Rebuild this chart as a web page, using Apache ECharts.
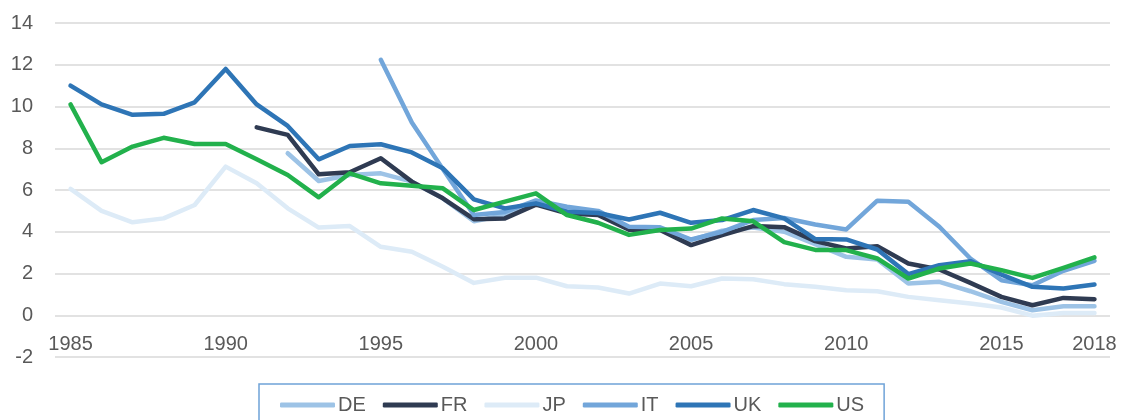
<!DOCTYPE html>
<html>
<head>
<meta charset="utf-8">
<script src="https://cdn.jsdelivr.net/npm/echarts@6/dist/echarts.min.js"></script>
<style>
  html, body { margin: 0; padding: 0; background: #fff; }
  #chart { width: 1123px; height: 420px; }
</style>
</head>
<body>
<div id="chart"></div>
<script>
  var years = [];
  for (var y = 1985; y <= 2018; y++) years.push(String(y));

  var shownYears = ['1985', '1990', '1995', '2000', '2005', '2010', '2015', '2018'];

  var de = [null, null, null, null, null, null, null,
    7.76, 6.43, 6.72, 6.8, 6.4, 5.6, 4.5, 4.8, 5.45,
    5.15, 4.9, 4.16, 4.16, 3.6, 4.05, 4.2, 4.0, 3.4, 2.8,
    2.67, 1.52, 1.6, 1.15, 0.64, 0.24, 0.43, 0.43];
  var fr = [null, null, null, null, null, null,
    9.0, 8.64, 6.75, 6.85, 7.52, 6.4, 5.6, 4.6, 4.64, 5.3,
    4.88, 4.8, 4.1, 4.08, 3.36, 3.84, 4.27, 4.22, 3.55, 3.2,
    3.31, 2.48, 2.19, 1.55, 0.88, 0.48, 0.83, 0.77];
  var jp = [6.05, 5.0, 4.45, 4.64, 5.28, 7.12,
    6.32, 5.12, 4.2, 4.27, 3.28, 3.04, 2.32, 1.55, 1.8, 1.8,
    1.39, 1.33, 1.04, 1.52, 1.39, 1.76, 1.72, 1.49, 1.36, 1.2,
    1.15, 0.88, 0.72, 0.56, 0.37, -0.02, 0.11, 0.11];
  var it = [null, null, null, null, null, null, null, null, null, null,
    12.24, 9.23, 7.0, 4.8, 4.95, 5.5,
    5.2, 5.0, 4.24, 4.21, 3.63, 4.0, 4.56, 4.66, 4.35, 4.11,
    5.49, 5.44, 4.24, 2.72, 1.68, 1.44, 2.13, 2.61];
  var uk = [11.0, 10.1, 9.6, 9.65, 10.2, 11.8,
    10.1, 9.07, 7.47, 8.11, 8.19, 7.8, 7.04, 5.55, 5.12, 5.36,
    4.96, 4.9, 4.59, 4.91, 4.43, 4.56, 5.04, 4.64, 3.65, 3.63,
    3.15, 1.97, 2.4, 2.59, 1.95, 1.36, 1.28, 1.47];
  var us = [10.1, 7.33, 8.08, 8.5, 8.2, 8.2,
    7.47, 6.72, 5.65, 6.8, 6.32, 6.2, 6.08, 5.04, 5.44, 5.84,
    4.8, 4.43, 3.85, 4.08, 4.15, 4.64, 4.5, 3.5, 3.13, 3.12,
    2.72, 1.76, 2.24, 2.48, 2.16, 1.79, 2.27, 2.77];

  var font = 'Liberation Sans';

  function line(name, data, color) {
    return {
      name: name,
      type: 'line',
      data: data,
      showSymbol: false,
      symbol: 'none',
      connectNulls: false,
      lineStyle: { color: color, width: 4.5, cap: 'round', join: 'round' },
      itemStyle: { color: color }
    };
  }

  var chart = echarts.init(document.getElementById('chart'));
  chart.setOption({
    animation: false,
    grid: { left: 55, right: 13, top: 23, bottom: 63, containLabel: false },
    legend: {
      left: 259,
      top: 384,
      width: 619,
      padding: [11, 20, 11, 21],
      itemGap: 17,
      itemWidth: 55,
      itemHeight: 5,
      icon: 'roundRect',
      borderColor: '#6fa3d8',
      borderWidth: 1.5,
      textStyle: { color: '#595959', fontSize: 20, fontFamily: font, padding: [0, 0, 0, -2] },
      data: ['DE', 'FR', 'JP', 'IT', 'UK', 'US']
    },
    xAxis: {
      type: 'category',
      data: years,
      boundaryGap: true,
      // the labels sit under the zero line, as in the source chart
      offset: -41.75,
      axisLine: { show: false, onZero: false },
      axisTick: { show: false },
      axisLabel: {
        color: '#595959',
        fontSize: 20,
        fontFamily: font,
        margin: 19,
        hideOverlap: false,
        interval: function (idx, val) { return shownYears.indexOf(val) >= 0; }
      },
      splitLine: { show: false }
    },
    yAxis: {
      type: 'value',
      min: -2,
      max: 14,
      interval: 2,
      axisLine: { show: false },
      axisTick: { show: false },
      axisLabel: { color: '#595959', fontSize: 20, fontFamily: font, margin: 22 },
      splitLine: { lineStyle: { color: '#d9d9d9', width: 1.5 } }
    },
    series: [
      line('DE', de, '#9dc3e6'),
      line('FR', fr, '#2f3b52'),
      line('JP', jp, '#ddebf7'),
      line('IT', it, '#72a6da'),
      line('UK', uk, '#2e75b6'),
      line('US', us, '#22b14c')
    ]
  });
</script>
</body>
</html>
